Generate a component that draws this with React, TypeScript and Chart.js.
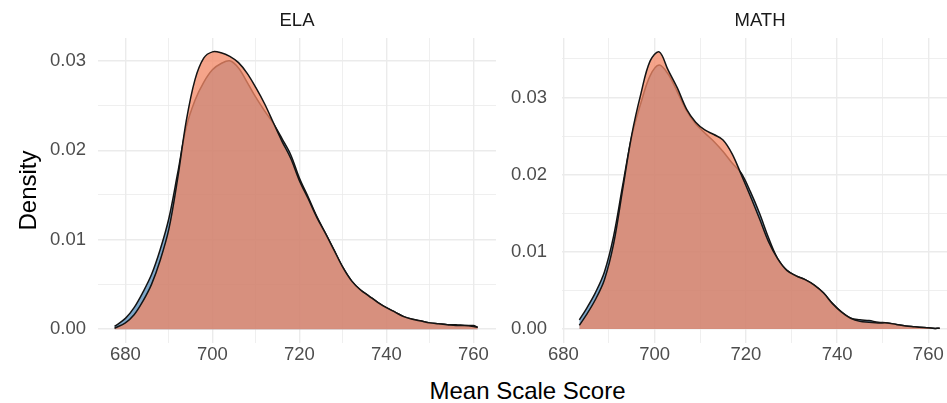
import React, { useEffect, useRef } from 'react';
import { Chart, registerables } from 'chart.js';

Chart.register(...registerables);

// ---------- data ----------
const panelTitles = ['ELA', 'MATH'];
const xAxisTitle = 'Mean Scale Score';
const yAxisTitle = 'Density';

const xTicks = [680, 690, 700, 710, 720, 730, 740, 750, 760];
const elaYTicks = [0, 0.005, 0.01, 0.015, 0.02, 0.025, 0.03];
const mathYTicks = [0, 0.005, 0.01, 0.015, 0.02, 0.025, 0.03, 0.035];

const elaScores = [
  677.5, 680, 682, 684, 686, 688, 690, 692, 694, 696, 698, 700, 702, 704, 706, 708, 710, 712,
  714, 716, 718, 720, 722, 724, 726, 728, 730, 732, 734, 736, 738, 740, 742, 744, 746, 748, 750,
  752, 754, 756, 758, 760, 761,
];
const elaBlue = [
  0.0003, 0.0012, 0.0024, 0.0041, 0.0061, 0.0089, 0.0124, 0.0174, 0.0226, 0.0256, 0.0276, 0.029,
  0.0297, 0.03, 0.0292, 0.0276, 0.0259, 0.0244, 0.023, 0.0213, 0.0195, 0.0169, 0.0148, 0.0126,
  0.0107, 0.0088, 0.0069, 0.0054, 0.0044, 0.0037, 0.003, 0.0024, 0.0019, 0.0014, 0.0011, 0.0009,
  0.0007, 0.0006, 0.0005, 0.0005, 0.0004, 0.0004, 0.0002,
];
const elaCoral = [
  0.0001, 0.0007, 0.0016, 0.0031, 0.005, 0.0077, 0.0112, 0.0168, 0.0233, 0.0279, 0.0303, 0.031,
  0.0309, 0.0305, 0.0298, 0.0286, 0.027, 0.0252, 0.0231, 0.021, 0.0191, 0.0166, 0.0146, 0.0125,
  0.0107, 0.0088, 0.0069, 0.0054, 0.0044, 0.0037, 0.003, 0.0024, 0.0019, 0.0014, 0.0011, 0.0009,
  0.0007, 0.0006, 0.0005, 0.0004, 0.0004, 0.0003, 0.0002,
];

const mathScores = [
  683.5, 685, 687, 689, 691, 693, 695, 697, 699, 701, 703, 705, 707, 709, 711, 713, 715, 717, 719,
  721, 723, 725, 727, 729, 731, 733, 735, 737, 739, 741, 743, 745, 747, 749, 751, 753, 755, 757,
  759, 761, 762.5,
];
const mathBlue = [
  0.0012, 0.0026, 0.0047, 0.0074, 0.012, 0.0186, 0.025, 0.0293, 0.0328, 0.0342, 0.033, 0.0307,
  0.0283, 0.0266, 0.0254, 0.0243, 0.023, 0.0215, 0.0202, 0.0178, 0.015, 0.0118, 0.0091, 0.0076,
  0.0069, 0.0064, 0.0057, 0.0047, 0.0033, 0.0022, 0.0014, 0.0012, 0.0011, 0.0009, 0.0008, 0.0006,
  0.0004, 0.0003, 0.0002, 0.0001, 0.0001,
];
const mathCoral = [
  0.0005, 0.0018, 0.0038, 0.0064, 0.011, 0.0181, 0.0252, 0.0305, 0.0347, 0.0359, 0.0335, 0.0312,
  0.0285, 0.0268, 0.0258, 0.0252, 0.0245, 0.0227, 0.02, 0.0172, 0.0143, 0.0113, 0.0091, 0.0076,
  0.0069, 0.0064, 0.0057, 0.0047, 0.0033, 0.0022, 0.0014, 0.001, 0.0009, 0.0008, 0.0008, 0.0006,
  0.0004, 0.0003, 0.0002, 0.0001, 0.0001,
];

// ---------- styles ----------
const FONT = '"Liberation Sans", Arial, sans-serif';
const BLUE_FILL = 'rgba(70,130,180,0.7)';
const CORAL_FILL = 'rgba(242,137,103,0.77)';
const OUTLINE = '#141414';
const GRID = '#EBEBEB';
const TICK_COLOR = '#4D4D4D';

type PanelCfg = {
  scores: number[];
  blue: number[];
  coral: number[];
  xMin: number;
  xMax: number;
  yMin: number;
  yMax: number;
  yTicks: number[];
  yAxisWidth: number;
  yPad: number;
  showYTitle: boolean;
};

function buildChart(canvas: HTMLCanvasElement, cfg: PanelCfg) {
  const pts = (vals: number[]) => cfg.scores.map((x, i) => ({ x, y: vals[i] }));
  const lineStyle = {
    borderColor: OUTLINE,
    borderWidth: 1.5,
    fill: 'origin',
    pointRadius: 0,
    tension: 0.35,
  };
  return new Chart(canvas, {
    type: 'line',
    data: {
      datasets: [
        { label: 'coral', data: pts(cfg.coral), backgroundColor: CORAL_FILL, ...lineStyle },
        { label: 'blue', data: pts(cfg.blue), backgroundColor: BLUE_FILL, ...lineStyle },
      ],
    } as any,
    options: {
      responsive: false,
      animation: false,
      events: [],
      layout: { padding: { top: 38, left: 0, right: 0, bottom: 0 } },
      plugins: {
        legend: { display: false },
        tooltip: { enabled: false },
        title: { display: false },
      },
      scales: {
        x: {
          type: 'linear',
          min: cfg.xMin,
          max: cfg.xMax,
          afterBuildTicks: (s: any) => {
            s.ticks = xTicks.map((v) => ({ value: v }));
          },
          afterFit: (s: any) => {
            s.height = 32;
          },
          border: { display: false },
          grid: {
            color: GRID,
            drawTicks: false,
            lineWidth: (ctx: any) => (ctx.tick && ctx.tick.value % 20 === 0 ? 1.4 : 0.8),
          },
          ticks: {
            padding: 1,
            color: TICK_COLOR,
            autoSkip: false,
            maxRotation: 0,
            font: { family: FONT, size: 18.5 },
            callback: (v: any) => (Number(v) % 20 === 0 ? String(v) : ''),
          },
        },
        y: {
          type: 'linear',
          min: cfg.yMin,
          max: cfg.yMax,
          afterBuildTicks: (s: any) => {
            s.ticks = cfg.yTicks.map((v) => ({ value: v }));
          },
          afterFit: (s: any) => {
            s.width = cfg.yAxisWidth;
          },
          border: { display: false },
          grid: {
            color: GRID,
            drawTicks: false,
            lineWidth: (ctx: any) =>
              ctx.tick && Math.round(ctx.tick.value * 1000) % 10 === 0 ? 1.4 : 0.8,
          },
          title: {
            display: cfg.showYTitle,
            text: yAxisTitle,
            color: '#000',
            font: { family: FONT, size: 24 },
            padding: { top: 15, bottom: 0 },
          },
          ticks: {
            padding: cfg.yPad,
            color: TICK_COLOR,
            autoSkip: false,
            font: { family: FONT, size: 18.5 },
            callback: (v: any) =>
              Math.round(Number(v) * 1000) % 10 === 0 ? Number(v).toFixed(2) : '',
          },
        },
      },
    } as any,
  });
}

const stripStyle = (cx: number): React.CSSProperties => ({
  position: 'absolute',
  left: cx,
  top: 11,
  transform: 'translateX(-50%)',
  fontFamily: FONT,
  fontSize: 18.5,
  lineHeight: '18.5px',
  color: '#1A1A1A',
  whiteSpace: 'nowrap',
});

export default function App() {
  const elaRef = useRef<HTMLCanvasElement>(null);
  const mathRef = useRef<HTMLCanvasElement>(null);

  useEffect(() => {
    const charts = [
      buildChart(elaRef.current as HTMLCanvasElement, {
        scores: elaScores,
        blue: elaBlue,
        coral: elaCoral,
        xMin: 673.7,
        xMax: 765.2,
        yMin: -0.00155,
        yMax: 0.03255,
        yTicks: elaYTicks,
        yAxisWidth: 98,
        yPad: 12,
        showYTitle: true,
      }),
      buildChart(mathRef.current as HTMLCanvasElement, {
        scores: mathScores,
        blue: mathBlue,
        coral: mathCoral,
        xMin: 679.7,
        xMax: 764.1,
        yMin: -0.0018,
        yMax: 0.0377,
        yTicks: mathYTicks,
        yAxisWidth: 62,
        yPad: 15,
        showYTitle: false,
      }),
    ];
    return () => charts.forEach((c) => c.destroy());
  }, []);

  return (
    <div
      style={{
        position: 'fixed',
        left: 0,
        top: 0,
        width: 947,
        height: 403,
        background: '#fff',
        overflow: 'hidden',
      }}
    >
      <canvas ref={elaRef} width={496} height={375} style={{ position: 'absolute', left: 0, top: 0 }} />
      <canvas ref={mathRef} width={447} height={375} style={{ position: 'absolute', left: 500, top: 0 }} />
      <div style={stripStyle(297)}>{panelTitles[0]}</div>
      <div style={stripStyle(760)}>{panelTitles[1]}</div>
      <div
        style={{
          position: 'absolute',
          left: 527.5,
          top: 379,
          transform: 'translateX(-50%)',
          fontFamily: FONT,
          fontSize: 24,
          lineHeight: '24px',
          color: '#000',
          whiteSpace: 'nowrap',
        }}
      >
        {xAxisTitle}
      </div>
    </div>
  );
}
